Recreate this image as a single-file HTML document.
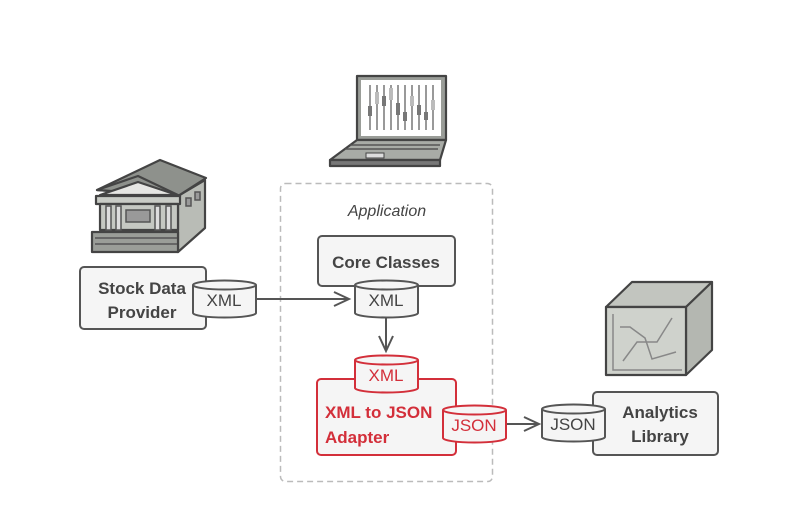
<!DOCTYPE html>
<html><head><meta charset="utf-8"><style>
html,body{margin:0;padding:0;background:#fff;}
svg{display:block;}
text{font-family:"Liberation Sans","DejaVu Sans",sans-serif;}
</style></head><body>
<svg width="809" height="507" viewBox="0 0 809 507" xmlns="http://www.w3.org/2000/svg">
<defs>
<g id="cyl">
 <path d="M0,4 L0,32 A31.5,4.5 0 0 0 63,32 L63,4" />
 <ellipse cx="31.5" cy="4" rx="31.5" ry="4.5"/>
</g>
</defs>
<rect width="809" height="507" fill="#fff"/>

<!-- Laptop -->
<g stroke="#444" stroke-width="2.2" stroke-linejoin="round">
 <path d="M357,76 L446,76 L446,140 L357,140 Z" fill="#9a9d98"/>
 <rect x="361" y="80" width="80" height="56" fill="#fff" stroke="none"/>
 <path d="M357,140 L446,140 L440,160 L330,160 Z" fill="#a8aba6"/>
 <path d="M330,160 L440,160 L440,166 L330,166 Z" fill="#777"/>
</g>
<g stroke="#999" stroke-width="2">
 <line x1="370" y1="85" x2="370" y2="130"/><line x1="377" y1="85" x2="377" y2="130"/>
 <line x1="384" y1="85" x2="384" y2="130"/><line x1="391" y1="85" x2="391" y2="130"/>
 <line x1="398" y1="85" x2="398" y2="130"/><line x1="405" y1="85" x2="405" y2="130"/>
 <line x1="412" y1="85" x2="412" y2="130"/><line x1="419" y1="85" x2="419" y2="130"/>
 <line x1="426" y1="85" x2="426" y2="130"/><line x1="433" y1="85" x2="433" y2="130"/>
</g>
<g fill="#777">
 <rect x="368" y="106" width="4" height="10"/><rect x="382" y="96" width="4" height="10"/>
 <rect x="396" y="103" width="4" height="12"/><rect x="403" y="112" width="4" height="9"/>
 <rect x="417" y="105" width="4" height="10"/><rect x="424" y="112" width="4" height="8"/>
</g>
<g fill="#bbb"><rect x="375" y="92" width="4" height="12"/><rect x="389" y="88" width="4" height="12"/><rect x="410" y="96" width="4" height="10"/><rect x="431" y="100" width="4" height="10"/></g>
<rect x="366" y="153" width="18" height="5" fill="#ddd" stroke="#444" stroke-width="1"/>
<g stroke="#555" stroke-width="1.5"><line x1="350" y1="145" x2="440" y2="145"/><line x1="345" y1="149" x2="438" y2="149"/></g>

<!-- Building -->
<g stroke="#444" stroke-width="2.2" stroke-linejoin="round">
 <path d="M178,196 L205,180 L205,228 L178,252 Z" fill="#b9bcb6"/>
 <path d="M97,190 L160,160 L206,178 L178,196 Z" fill="#8e918c"/>
 <path d="M97,190 L138,176 L180,196 Z" fill="#8e918c"/>
 <path d="M100,195 L138,182 L177,195 Z" fill="#e6e6e3"/>
 <path d="M96,196 L180,196 L180,204 L96,204 Z" fill="#c9ccc6"/>
 <rect x="100" y="204" width="78" height="26" fill="#c5c8c2"/>
 <path d="M92,232 L178,232 L178,252 L92,252 Z" fill="#9a9d98"/>
</g>
<g stroke="#555" stroke-width="1.5" fill="#ddd">
 <rect x="106" y="206" width="5" height="24"/><rect x="116" y="206" width="5" height="24"/>
 <rect x="155" y="206" width="5" height="24"/><rect x="166" y="206" width="5" height="24"/>
 <rect x="126" y="210" width="24" height="12" fill="#999"/>
 <line x1="95" y1="238" x2="177" y2="238"/><line x1="95" y1="244" x2="177" y2="244"/>
 <rect x="186" y="198" width="5" height="8" fill="#999"/><rect x="195" y="192" width="5" height="8" fill="#999"/>
</g>

<!-- Box library -->
<g stroke="#444" stroke-width="2.2" stroke-linejoin="round">
 <path d="M606,307 L632,282 L712,282 L686,307 Z" fill="#c2c5bf"/>
 <path d="M686,307 L712,282 L712,350 L686,375 Z" fill="#b4b7b1"/>
 <rect x="606" y="307" width="80" height="68" fill="#cfd2cc"/>
</g>
<g stroke="#888" stroke-width="1.5" fill="none">
 <path d="M613,314 L613,370 L682,370"/>
 <path d="M620,327 L630,327 L645,338 L652,359 L676,352"/>
 <path d="M623,361 L637,342 L657,342 L672,318"/>
</g>

<!-- Dashed Application box -->
<rect x="280.5" y="183.5" width="212" height="298" rx="5" fill="none" stroke="#bbb" stroke-width="1.5" stroke-dasharray="6,4"/>
<text x="387" y="216" font-size="16" font-style="italic" fill="#444" text-anchor="middle">Application</text>

<!-- Core Classes -->
<rect x="318" y="236" width="137" height="50" rx="4" fill="#f5f5f5" stroke="#555" stroke-width="2"/>
<text x="386" y="268" font-size="17" font-weight="bold" fill="#444" text-anchor="middle">Core Classes</text>

<!-- Stock Data Provider -->
<rect x="80" y="267" width="126" height="62" rx="4" fill="#f5f5f5" stroke="#555" stroke-width="2"/>
<text x="142" y="294" font-size="17" font-weight="bold" fill="#444" text-anchor="middle">Stock Data</text>
<text x="142" y="318" font-size="17" font-weight="bold" fill="#444" text-anchor="middle">Provider</text>

<!-- Analytics Library -->
<rect x="593" y="392" width="125" height="63" rx="4" fill="#f5f5f5" stroke="#555" stroke-width="2"/>
<text x="660" y="418" font-size="17" font-weight="bold" fill="#444" text-anchor="middle">Analytics</text>
<text x="660" y="442" font-size="17" font-weight="bold" fill="#444" text-anchor="middle">Library</text>

<!-- Cylinders gray -->
<g fill="#f5f5f5" stroke="#555" stroke-width="2">
 <use href="#cyl" x="193" y="281"/>
 <use href="#cyl" x="355" y="281"/>
 <use href="#cyl" x="542" y="405"/>
</g>
<text x="224" y="306" font-size="17" fill="#444" text-anchor="middle">XML</text>
<text x="386" y="306" font-size="17" fill="#444" text-anchor="middle">XML</text>
<text x="573" y="430" font-size="17" fill="#444" text-anchor="middle">JSON</text>

<!-- Arrows -->
<g stroke="#555" stroke-width="2" fill="none">
 <line x1="256" y1="299" x2="348" y2="299"/>
 <path d="M334,292 L349,299 L334,306"/>
 <line x1="386" y1="318" x2="386" y2="350"/>
 <path d="M379,336 L386,351 L393,336"/>
 <line x1="507" y1="424" x2="538" y2="424"/>
 <path d="M524,417 L539,424 L524,431"/>
</g>

<!-- Adapter -->
<rect x="317" y="379" width="139" height="76" rx="4" fill="#f5f5f5" stroke="#d32f3a" stroke-width="2"/>
<text x="325" y="418" font-size="17" font-weight="bold" fill="#d32f3a">XML to JSON</text>
<text x="325" y="443" font-size="17" font-weight="bold" fill="#d32f3a">Adapter</text>
<g fill="#f5f5f5" stroke="#d32f3a" stroke-width="2">
 <use href="#cyl" x="355" y="356"/>
 <use href="#cyl" x="443" y="406"/>
</g>
<text x="386" y="381" font-size="17" fill="#d32f3a" text-anchor="middle">XML</text>
<text x="474" y="431" font-size="17" fill="#d32f3a" text-anchor="middle">JSON</text>
</svg>
</body></html>
